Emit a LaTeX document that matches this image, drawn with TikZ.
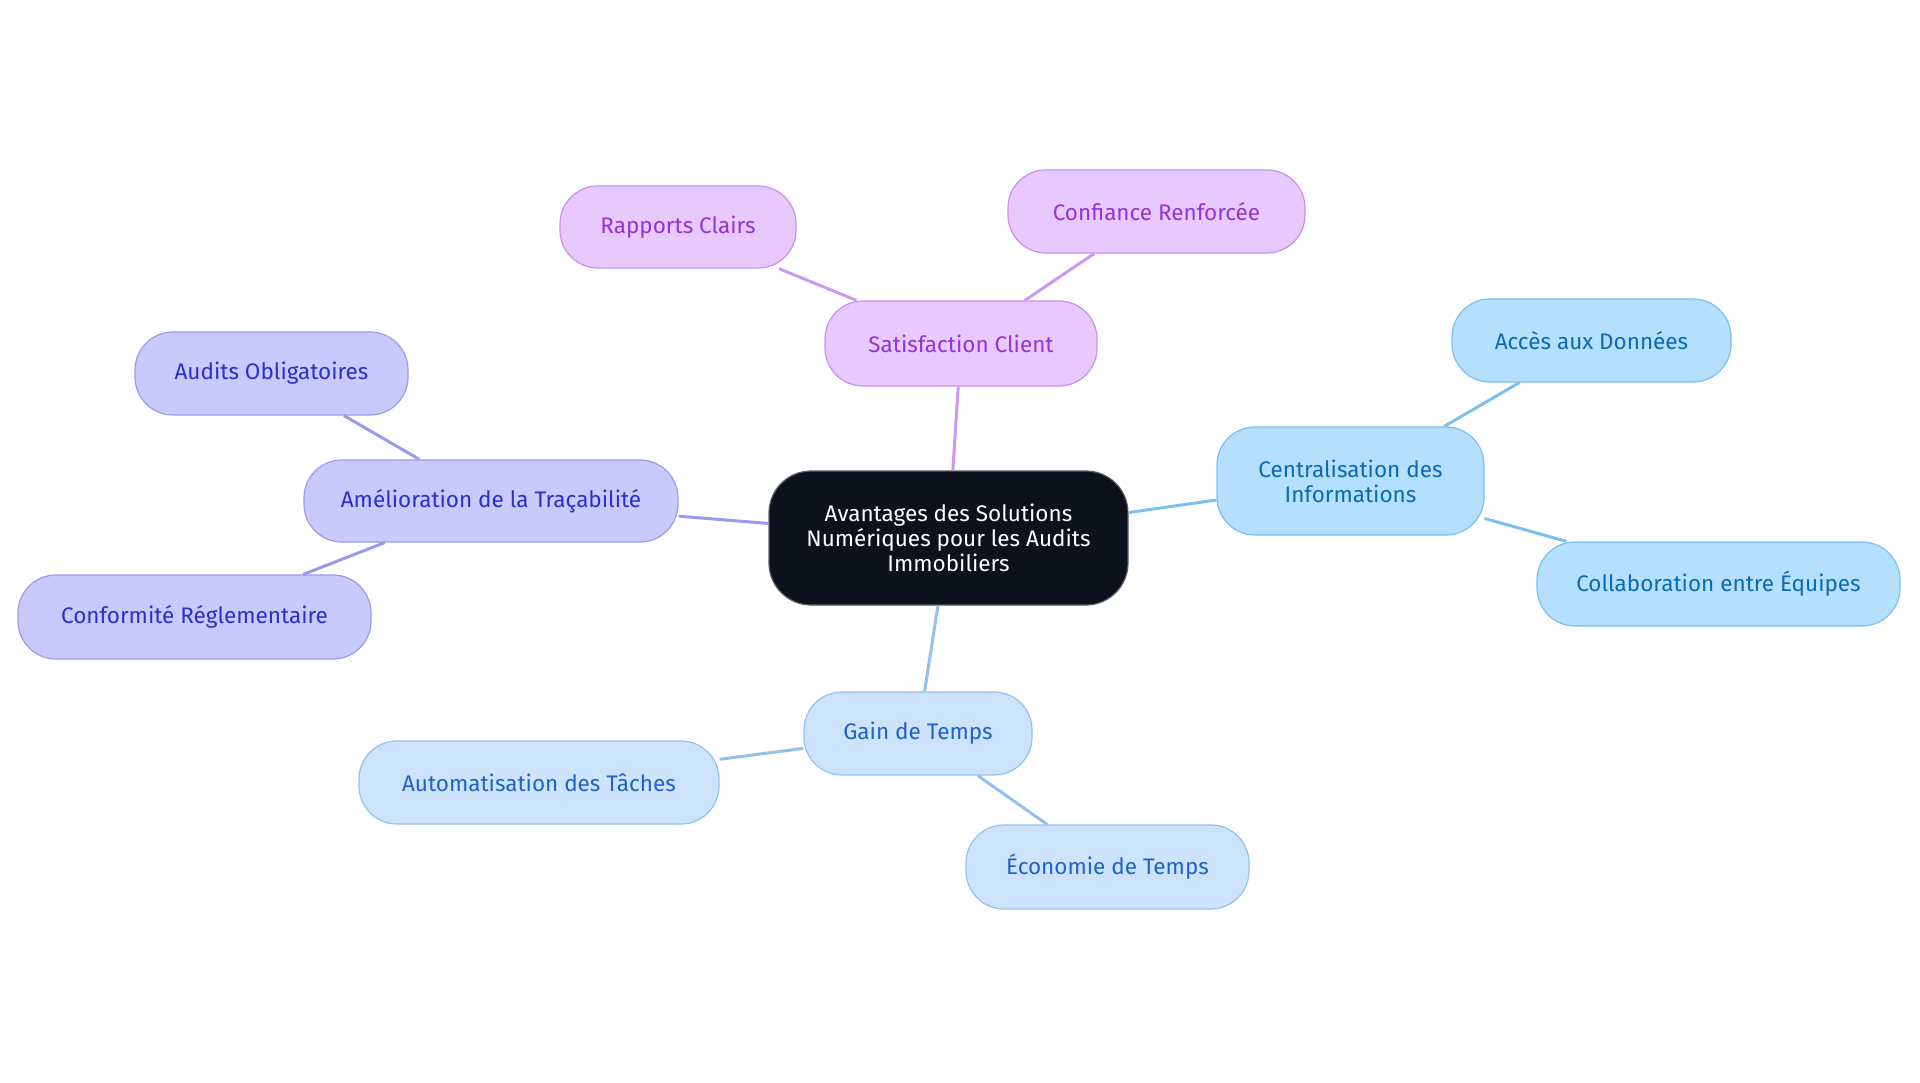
\documentclass[tikz,border=0pt]{standalone}
\usepackage{fontspec}
\setmainfont{Fira Sans}
\begin{document}
\begin{tikzpicture}[x=1pt,y=-1pt,
  base/.style={rounded corners=38pt,line width=1.2pt,align=center,inner sep=0pt,
    font=\fontsize{22.5}{25}\selectfont},
  cen/.style={base,fill=cenfill,draw=cenline,text=white,rounded corners=42pt},
  pur/.style={base,fill=purfill,draw=purline,text=purtext},
  sky/.style={base,fill=skyfill,draw=skyline,text=skytext},
  ind/.style={base,fill=indfill,draw=indline,text=indtext},
  blu/.style={base,fill=blufill,draw=bluline,text=blutext},
  edge/.style={line width=3pt}
]
\definecolor{cenfill}{HTML}{0C111B}
\definecolor{cenline}{HTML}{5A5F66}
\definecolor{purfill}{HTML}{E8C9FE}
\definecolor{purline}{HTML}{C890F0}
\definecolor{purtext}{HTML}{9333D8}
\definecolor{puredge}{HTML}{C99AF0}
\definecolor{skyfill}{HTML}{B4E0FD}
\definecolor{skyline}{HTML}{7CC0F0}
\definecolor{skytext}{HTML}{0A6AB4}
\definecolor{skyedge}{HTML}{7DBFEF}
\definecolor{indfill}{HTML}{C8C9FC}
\definecolor{indline}{HTML}{9A9CF0}
\definecolor{indtext}{HTML}{2E2ECB}
\definecolor{indedge}{HTML}{9A9AEE}
\definecolor{blufill}{HTML}{CDE3FB}
\definecolor{bluline}{HTML}{94C2F0}
\definecolor{blutext}{HTML}{1E63C8}
\definecolor{bluedge}{HTML}{94C0EE}

\path[use as bounding box,fill=white] (0,0) rectangle (1920,1083);

\node[cen,minimum width=359pt,minimum height=134pt] (c) at (948.5,538) {Avantages des Solutions\\Numériques pour les Audits\\Immobiliers};

\node[pur,minimum width=272pt,minimum height=85pt] (sat) at (961,343.5) {Satisfaction Client};
\node[pur,minimum width=297pt,minimum height=83pt] (conf) at (1156.5,211.5) {Confiance Renforcée};
\node[pur,minimum width=236pt,minimum height=82pt] (rap) at (678,227) {Rapports Clairs};

\node[sky,minimum width=267pt,minimum height=108pt] (cent) at (1350.5,481) {Centralisation des\\Informations};
\node[sky,minimum width=279pt,minimum height=83pt] (acc) at (1591.5,340.5) {Accès aux Données};
\node[sky,minimum width=363pt,minimum height=84pt] (col) at (1718.5,584) {Collaboration entre Équipes};

\node[ind,minimum width=374pt,minimum height=82pt] (amel) at (491,501) {Amélioration de la Traçabilité};
\node[ind,minimum width=273pt,minimum height=83pt] (aud) at (271.5,373.5) {Audits Obligatoires};
\node[ind,minimum width=353pt,minimum height=84pt] (conf2) at (194.5,617) {Conformité Réglementaire};

\node[blu,minimum width=228pt,minimum height=83pt] (gain) at (918,733.5) {Gain de Temps};
\node[blu,minimum width=360pt,minimum height=83pt] (auto) at (539,782.5) {Automatisation des Tâches};
\node[blu,minimum width=283pt,minimum height=84pt] (eco) at (1107.5,867) {Économie de Temps};

\draw[edge,puredge] (c) -- (sat);
\draw[edge,puredge] (sat) -- (conf);
\draw[edge,puredge] (sat) -- (rap);
\draw[edge,skyedge] (c) -- (cent);
\draw[edge,skyedge] (cent) -- (acc);
\draw[edge,skyedge] (cent) -- (col);
\draw[edge,indedge] (c) -- (amel);
\draw[edge,indedge] (amel) -- (aud);
\draw[edge,indedge] (amel) -- (conf2);
\draw[edge,bluedge] (c) -- (gain);
\draw[edge,bluedge] (gain) -- (auto);
\draw[edge,bluedge] (gain) -- (eco);
\end{tikzpicture}
\end{document}
